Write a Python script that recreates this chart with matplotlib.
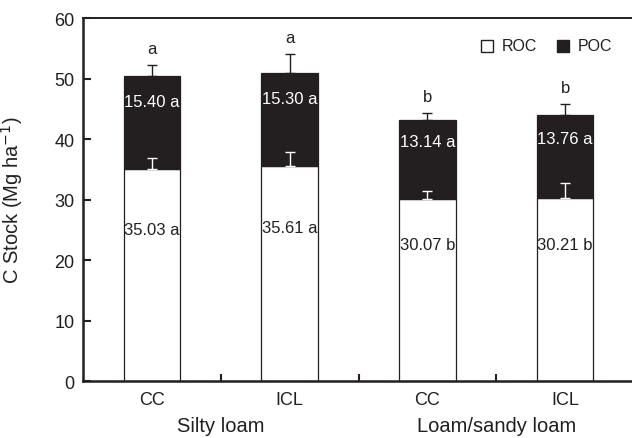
import numpy as np
import matplotlib.pyplot as plt

plt.rcParams['font.family'] = ['Liberation Sans', 'DejaVu Sans']

# C stock by soil texture and system
treatments = ["CC", "ICL", "CC", "ICL"]
soils = ["Silty loam", "Loam/sandy loam"]
roc = [35.03, 35.61, 30.07, 30.21]
poc = [15.40, 15.30, 13.14, 13.76]
roc_err = [1.8, 2.3, 1.4, 2.6]
tot_err = [1.85, 3.1, 1.1, 1.85]
roc_letters = ["a", "a", "b", "b"]
poc_letters = ["a", "a", "a", "a"]
tot_letters = ["a", "a", "b", "b"]

ink = '#231f20'
x = np.arange(len(treatments))
roc = np.array(roc)
poc = np.array(poc)
total = roc + poc
w = 0.41

fig = plt.figure(figsize=(6.32, 4.39), dpi=100)
ax = fig.add_axes([0.1313, 0.1298, 0.872, 0.8269])

ax.bar(x, roc, w, color='white', edgecolor=ink, linewidth=0.9, zorder=2)
ax.bar(x, poc, w, bottom=roc, color=ink, edgecolor=ink, linewidth=0.9, zorder=2)

# upper error bars only
ax.errorbar(x, roc, yerr=[np.zeros(4), roc_err], fmt='none', ecolor='white',
            elinewidth=1.0, capsize=3.5, capthick=1.0, zorder=3)
ax.errorbar(x, total, yerr=[np.zeros(4), tot_err], fmt='none', ecolor=ink,
            elinewidth=1.0, capsize=3.5, capthick=1.0, zorder=3)

for i in range(len(x)):
    ax.text(x[i], roc[i] * 0.5 + 7.5, f"{roc[i]:.2f} {roc_letters[i]}", ha='center',
            va='center', fontsize=12, color=ink)
    ax.text(x[i], roc[i] + poc[i] * 0.72, f"{poc[i]:.2f} {poc_letters[i]}", ha='center',
            va='center', fontsize=12, color='white')
    ax.text(x[i], total[i] + tot_err[i] + 2.7, tot_letters[i], ha='center',
            va='center', fontsize=12, color=ink)

ax.set_xlim(-0.5, 3.5)
ax.set_ylim(0, 60)
ax.set_yticks(np.arange(0, 61, 10))
ax.set_xticks(x)
ax.set_xticklabels(treatments, fontsize=13, color=ink)
ax.set_xticks([0.5, 1.5, 2.5], minor=True)
ax.tick_params(axis='x', which='major', length=0, pad=7)
ax.tick_params(axis='x', which='minor', direction='in', length=5, width=1.5, color=ink)
ax.tick_params(axis='y', direction='in', length=6, width=1.5, color=ink,
               labelsize=13, labelcolor=ink, pad=6)

for s in ['left', 'bottom']:
    ax.spines[s].set_linewidth(1.8)
    ax.spines[s].set_color(ink)
ax.spines['top'].set_linewidth(1.4)
ax.spines['top'].set_color(ink)
ax.spines['right'].set_visible(False)

ax.set_ylabel("C Stock (Mg ha$^{-1}$)", fontsize=14.5, color=ink)
ax.yaxis.set_label_coords(-0.105, 0.5)

for j, name in enumerate(soils):
    ax.text(0.5 + 2 * j, -7.3, name, ha='center', va='center', fontsize=14.5, color=ink)

# legend: square symbols with labels
for xm, xt, fc, lab in [(0.734, 0.760, 'white', 'ROC'), (0.871, 0.897, ink, 'POC')]:
    ax.plot([xm], [0.923], 's', mfc=fc, mec=ink, mew=1.0, ms=8,
            transform=ax.transAxes, clip_on=False)
    ax.text(xt, 0.923, lab, transform=ax.transAxes, ha='left', va='center',
            fontsize=11.5, color=ink)

fig.savefig('out.png', dpi=100)
